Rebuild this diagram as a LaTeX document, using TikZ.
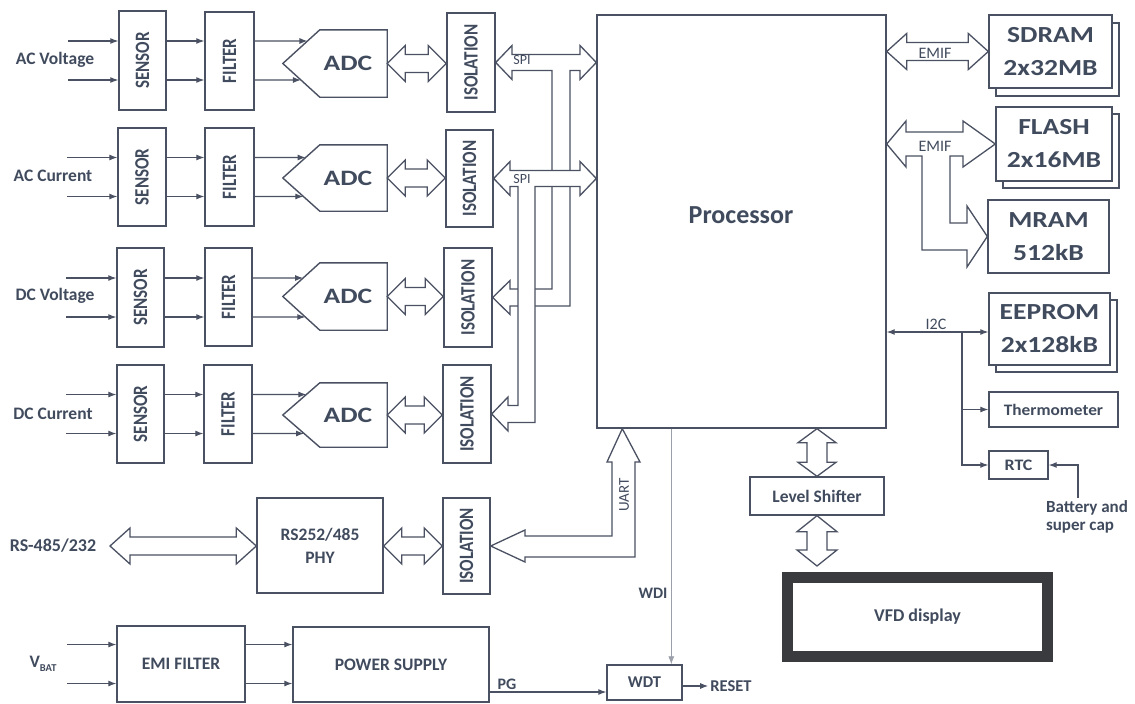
\documentclass[tikz,border=0pt]{standalone}
\usepackage{fontspec}
\setmainfont{Carlito}
\usepackage{graphicx}
\usetikzlibrary{calc,arrows.meta}
\definecolor{ln}{HTML}{4A5162}
\definecolor{tx}{HTML}{414B5E}
\definecolor{vfdc}{HTML}{3A3B3F}
\newcommand\fsz[1]{\fontsize{#1}{#1}\selectfont}
\newcommand\wx[2]{\scalebox{#1}[1]{#2}}
\newcommand\rot[1]{\rotatebox{90}{\scalebox{1}[1.2]{#1}}}
% horizontal double arrow: left tip, right tip, head length, head half width, shaft half width
\newcommand\hdbl[5]{\draw[bus] (#1) -- ++(#3,-#4) -- ++(0,#4-#5) -- ($(#2)+(-#3,-#5)$) -- ++(0,#5-#4) -- (#2) -- ++(-#3,#4) -- ++(0,#5-#4) -- ($(#1)+(#3,#5)$) -- ++(0,#4-#5) -- cycle;}
% vertical double arrow: top tip, bottom tip, head length, head half width, shaft half width
\newcommand\vdbl[5]{\draw[bus] (#1) -- ++(#4,#3) -- ++(#5-#4,0) -- ($(#2)+(#5,-#3)$) -- ++(#4-#5,0) -- (#2) -- ++(-#4,-#3) -- ++(#4-#5,0) -- ($(#1)+(-#5,#3)$) -- ++(#5-#4,0) -- cycle;}
\tikzset{
  box/.style={draw=ln, line width=1.4pt, fill=white, inner sep=0pt, text=tx, font=\bfseries\fsz{17.5}},
  rotbox/.style={box, font=\bfseries\fsz{17}},
  membox/.style={box, align=center, font=\bfseries\fontsize{23}{33}\selectfont},
  bus/.style={draw=ln, line width=1.3pt, fill=white, line join=miter},
  adcline/.style={draw=ln, line width=1.4pt, fill=white, line join=miter},
  sig/.style={draw=ln, line width=1.1pt, -{Latex[length=8pt,width=6pt]}},
  sigb/.style={draw=ln, line width=1.1pt, {Latex[length=8pt,width=6pt]}-{Latex[length=8pt,width=6pt]}},
  lab/.style={text=tx, inner sep=0pt, font=\bfseries\fsz{17.5}},
  thinlab/.style={text=tx, inner sep=0pt, font=\fsz{15}},
}
\newcommand\adcrow[1]{%
  \coordinate (u#1) at ($(sen#1.center)+(0,-19.5)$);
  \coordinate (d#1) at ($(sen#1.center)+(0,19.5)$);
  \coordinate (an#1) at ($(adc#1.north west)+(37,0)$);
  \coordinate (as#1) at ($(adc#1.south west)+(37,0)$);
  \coordinate (ue#1) at (adc#1.east |- u#1);
  \coordinate (de#1) at (adc#1.east |- d#1);
  \draw[sig] ($(sen#1.west |- u#1)+(-50,0)$) -- (sen#1.west |- u#1);
  \draw[sig] ($(sen#1.west |- d#1)+(-50,0)$) -- (sen#1.west |- d#1);
  \draw[sig] (sen#1.east |- u#1) -- (fil#1.west |- u#1);
  \draw[sig] (sen#1.east |- d#1) -- (fil#1.west |- d#1);
  \draw[sig] (fil#1.east |- u#1) -- (intersection of adc#1.west--an#1 and u#1--ue#1);
  \draw[sig] (fil#1.east |- d#1) -- (intersection of adc#1.west--as#1 and d#1--de#1);
  \draw[adcline] (adc#1.west) -- (an#1) -- (adc#1.north east) -- (adc#1.south east) -- (as#1) -- cycle;
  \node[lab, font=\bfseries\fsz{22}] (adct#1) at ($(adc#1.center)+(13,0)$) {\wx{1.25}{ADC}};
  \hdbl{adc#1.east}{adc#1.east -| iso#1.west}{18}{18}{9}
}
\begin{document}
\begin{tikzpicture}[x=1pt,y=-1pt]
\fill[white] (0,0) rectangle (1135,704);
\useasboundingbox (0,0) rectangle (1135,704);

% ---------- input labels
\node[lab] (lacv) at (55,60) {AC Voltage};
\node[lab] (lacc) at (53,176) {AC Current};
\node[lab] (ldcv) at (55,296) {DC Voltage};
\node[lab] (ldcc) at (53,414) {DC Current};

% ---------- sensors
\node[rotbox, minimum width=47, minimum height=99] (sen1) at (142.5,60.5) {\rot{SENSOR}};
\node[rotbox, minimum width=48, minimum height=98] (sen2) at (142,177) {\rot{SENSOR}};
\node[rotbox, minimum width=47, minimum height=99] (sen3) at (140.5,297.5) {\rot{SENSOR}};
\node[rotbox, minimum width=47, minimum height=98] (sen4) at (140.5,414) {\rot{SENSOR}};
% ---------- filters
\node[rotbox, minimum width=49, minimum height=98] (fil1) at (229.5,61) {\rot{FILTER}};
\node[rotbox, minimum width=49, minimum height=98] (fil2) at (229.5,177) {\rot{FILTER}};
\node[rotbox, minimum width=47, minimum height=98] (fil3) at (228.5,297) {\rot{FILTER}};
\node[rotbox, minimum width=48, minimum height=98] (fil4) at (228,414) {\rot{FILTER}};
% ---------- ADC frames (outline drawn in \adcrow)
\node[inner sep=0pt, minimum width=104, minimum height=67] (adc1) at (335,63.5) {};
\node[inner sep=0pt, minimum width=104, minimum height=66] (adc2) at (335,178) {};
\node[inner sep=0pt, minimum width=104, minimum height=67] (adc3) at (335,296.5) {};
\node[inner sep=0pt, minimum width=104, minimum height=64] (adc4) at (335,415) {};
% ---------- isolation
\node[rotbox, minimum width=48, minimum height=99] (iso1) at (471,62.5) {\rot{ISOLATION}};
\node[rotbox, minimum width=47, minimum height=97] (iso2) at (469.5,178.5) {\rot{ISOLATION}};
\node[rotbox, minimum width=48, minimum height=99] (iso3) at (468,297.5) {\rot{ISOLATION}};
\node[rotbox, minimum width=48, minimum height=98] (iso4) at (467,414) {\rot{ISOLATION}};
\node[rotbox, minimum width=47, minimum height=96] (iso5) at (466.5,546) {\rot{ISOLATION}};

\adcrow{1}
\adcrow{2}
\adcrow{3}
\adcrow{4}

% ---------- processor
\node[box, minimum width=289, minimum height=413] (proc) at (741.5,221.5) {};
\node[lab, font=\bfseries\fsz{26}] (proclab) at (741,215) {Processor};

% ---------- SPI buses
\draw[bus] (iso1.east) -- (512,45.5) -- (512,54.5) -- (580,54.5) -- (580,45.5) -- (proc.west |- iso1.east)
  -- (580,79.5) -- (580,70.5) -- (570,70.5) -- (570,306) -- (510,306) -- (510,314.5) -- (iso3.east)
  -- (510,280.5) -- (510,289) -- (552,289) -- (552,70.5) -- (512,70.5) -- (512,79.5) -- cycle;
\draw[bus] (iso2.east) -- (510,161.5) -- (510,170.5) -- (580,170.5) -- (580,161.5) -- (proc.west |- iso2.east)
  -- (580,195.5) -- (580,186.5) -- (535,186.5) -- (535,422.5) -- (508,422.5) -- (508,431) -- (iso4.east)
  -- (508,397) -- (508,405.5) -- (518,405.5) -- (518,186.5) -- (510,186.5) -- (510,195.5) -- cycle;
\node[thinlab, font=\fsz{14}] (spi1) at (522,60) {SPI};
\node[thinlab, font=\fsz{14}] (spi2) at (522,179) {SPI};

% ---------- memories
\node[box, minimum width=123, minimum height=73] (sdramsh) at (1057.5,59.5) {};
\node[membox, minimum width=123, minimum height=73] (sdram) at (1050.5,51.5) {\wx{1.2}{SDRAM}\\\wx{1.2}{2x32MB}};
\node[box, minimum width=116, minimum height=74] (flashsh) at (1061,151) {};
\node[membox, minimum width=116, minimum height=74] (flash) at (1054,144) {\wx{1.2}{FLASH}\\\wx{1.2}{2x16MB}};
\node[membox, minimum width=121, minimum height=73] (mram) at (1048.5,236.5) {\wx{1.2}{MRAM}\\\wx{1.2}{512kB}};
\node[box, minimum width=121, minimum height=72] (eepromsh) at (1056.5,336) {};
\node[membox, minimum width=121, minimum height=72] (eeprom) at (1049.5,329) {\wx{1.2}{EEPROM}\\\wx{1.2}{2x128kB}};
\node[box, minimum width=129, minimum height=35, font=\bfseries\fsz{16}] (thermo) at (1053.5,409.5) {\wx{1.08}{Thermometer}};
\node[box, minimum width=59, minimum height=28, font=\bfseries\fsz{16}] (rtc) at (1018.5,465) {\wx{1.12}{RTC}};

% EMIF 1
\hdbl{sdram.west -| proc.east}{sdram.west}{20}{18}{9}
\node[thinlab, font=\fsz{16}] (emif1) at (935,53) {EMIF};
% EMIF 2 with branch to MRAM
\draw[bus] (proc.east |- flash.west) -- (906,121) -- (906,132) -- (963,132) -- (963,121) -- (flash.west)
  -- (963,167) -- (963,156) -- (950,156) -- (950,223) -- (967,223) -- (967,206) -- (mram.west)
  -- (967,267) -- (967,250) -- (922,250) -- (922,156) -- (906,156) -- (906,167) -- cycle;
\node[thinlab, font=\fsz{16}] (emif2) at (935,146) {EMIF};

% I2C
\coordinate (i2c) at (962,332);
\draw[sigb] (proc.east |- i2c) -- (eeprom.west |- i2c);
\draw[sig] (i2c) |- (thermo.west);
\draw[sig] (i2c) |- (rtc.west);
\node[thinlab, font=\fsz{16}] (i2clab) at (936,324) {I2C};
% battery
\node[lab, font=\bfseries\fsz{17}] (batt1) at (1087,508) {Battery and};
\node[lab, font=\bfseries\fsz{17}] (batt2) at (1080,528) {super cap};
\coordinate (batt) at (1078,498);
\draw[sig] (batt) |- (rtc.east);

% ---------- level shifter and VFD
\node[box, minimum width=134, minimum height=38] (lvl) at (817,496) {Level Shifter};
\node[draw=vfdc, line width=11pt, fill=white, minimum width=260, minimum height=79, inner sep=0pt,
      text=tx, font=\bfseries\fsz{18}] (vfd) at (917.5,617) {VFD display};
\vdbl{lvl.north |- proc.south}{lvl.north}{14}{19}{10}
\coordinate (vfdtop) at ($(lvl.south |- vfd.north)+(0,-6)$);
\vdbl{lvl.south}{vfdtop}{16}{20}{10}

% ---------- RS-485/232
\node[box, minimum width=126, minimum height=95, align=center, font=\bfseries\fontsize{17.5}{23}\selectfont] (phy) at (320,545.5) {RS252/485\\PHY};
\node[lab, font=\bfseries\fsz{18}] (lrs) at (53,546) {RS-485/232};
\coordinate (rsL) at (110,546);
\hdbl{rsL}{rsL -| phy.west}{20}{18}{9}
\hdbl{phy.east |- rsL}{iso5.west |- rsL}{18}{18}{9}

% UART
\coordinate (uartT) at ($(proc.south west)+(26,0)$);
\draw[bus] (iso5.east) -- (525,530) -- (525,536) -- (612,536) -- (612,462) -- (607,462) -- (uartT)
  -- (640,462) -- (635,462) -- (635,557) -- (525,557) -- (525,562) -- cycle;
\node[thinlab, font=\fsz{15}, rotate=90] (uart) at (624,495) {UART};

% ---------- power
\node[box, minimum width=128, minimum height=76] (emi) at (181,664) {EMI FILTER};
\node[box, minimum width=196, minimum height=75] (ps) at (391,664.5) {POWER SUPPLY};
\node[lab] (vbat) at (43,664) {V\raisebox{-4pt}{\fsz{10.5}BAT}};
\coordinate (vu) at ($(emi.center)+(0,-19.5)$);
\coordinate (vd) at ($(emi.center)+(0,19.5)$);
\draw[sig] ($(emi.west |- vu)+(-49,0)$) -- (emi.west |- vu);
\draw[sig] ($(emi.west |- vd)+(-49,0)$) -- (emi.west |- vd);
\draw[sig] (emi.east |- vu) -- (ps.west |- vu);
\draw[sig] (emi.east |- vd) -- (ps.west |- vd);

% ---------- watchdog
\node[box, minimum width=75, minimum height=35, font=\bfseries\fsz{16.5}] (wdt) at (644.5,682.5) {WDT};
\coordinate (pgS) at ($(ps.east)+(0,27.5)$);
\draw[sig] (pgS) -- (pgS -| wdt.west);
\node[lab, font=\bfseries\fsz{16}] (pg) at (507,684) {PG};
\coordinate (wdiS) at ($(proc.south west)+(75,0)$);
\draw[sig, draw=ln!55, line width=0.8pt] (wdiS) -- (wdiS |- wdt.north);
\node[lab, font=\bfseries\fsz{16}] (wdi) at (653,593) {WDI};
\node[lab, inner sep=2pt, font=\bfseries\fsz{16.5}] (reset) at (731,686) {RESET};
\draw[sig] (wdt.east |- reset.west) -- (reset.west);
\end{tikzpicture}
\end{document}
